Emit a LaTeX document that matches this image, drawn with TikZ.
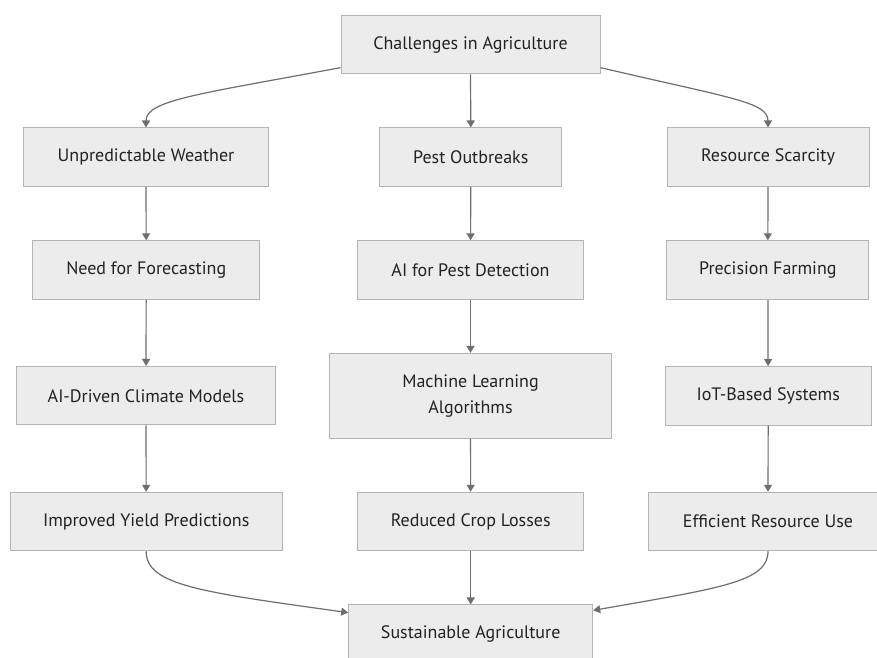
\documentclass[tikz,border=0pt]{standalone}
\usepackage{fontspec}
\setmainfont{PT Sans}
\usetikzlibrary{arrows.meta}
\definecolor{boxfill}{HTML}{ECECEC}
\definecolor{boxline}{HTML}{B4B4B4}
\definecolor{edgecol}{HTML}{6E6E6E}
\definecolor{txt}{HTML}{222222}
\begin{document}
\begin{tikzpicture}[x=1pt,y=-1pt,
  box/.style={draw=boxline, fill=boxfill, line width=1pt, text=txt,
    font=\fontsize{18}{26}\selectfont, align=center, inner sep=0pt,
    minimum height=58.5pt},
  edge/.style={draw=edgecol, line width=1.2pt,
    -{Triangle[length=7pt,width=8pt]}}]
\useasboundingbox (0,0) rectangle (877,657);
\clip (0,0) rectangle (877,657);
\fill[white] (0,0) rectangle (877,657);

\node[box, minimum width=259pt] (ch) at (470.5,44.7) {Challenges in Agriculture};

\node[box, minimum width=245.4pt] (uw) at (146,157.2) {Unpredictable Weather};
\node[box, minimum width=181.7pt] (po) at (470.8,157.2) {Pest Outbreaks};
\node[box, minimum width=202pt] (rs) at (768,157.2) {Resource Scarcity};

\node[box, minimum width=227pt] (nf) at (146.2,270) {Need for Forecasting};
\node[box, minimum width=226.4pt] (ap) at (470.5,270) {AI for Pest Detection};
\node[box, minimum width=202.3pt] (pf) at (767.8,270) {Precision Farming};

\node[box, minimum width=259.7pt] (ad) at (146,395.7) {AI-Driven Climate Models};
\node[box, minimum width=281.6pt, minimum height=84.7pt] (ml) at (470.5,395.7) {Machine Learning\\Algorithms};
\node[box, minimum width=205.7pt] (io) at (768.2,395.8) {IoT-Based Systems};

\node[box, minimum width=271.7pt] (iy) at (146.2,521.5) {Improved Yield Predictions};
\node[box, minimum width=226pt] (rc) at (470.7,521.5) {Reduced Crop Losses};
\node[box, minimum width=239.4pt] (er) at (768,521.5) {Efficient Resource Use};

\node[box, minimum width=244pt] (sa) at (470.7,634.2) {Sustainable Agriculture};

\draw[edge] (ch.190) .. controls (200,94) and (146,100) .. (uw.north);
\draw[edge] (ch.south) -- (po.north);
\draw[edge] (ch.-10.6) .. controls (730,98) and (768,102) .. (rs.north);

\draw[edge] (uw) -- (nf);
\draw[edge] (po) -- (ap);
\draw[edge] (rs) -- (pf);

\draw[edge] (nf) -- (ad);
\draw[edge] (ap) -- (ml);
\draw[edge] (pf) -- (io);

\draw[edge] (ad) -- (iy);
\draw[edge] (ml) -- (rc);
\draw[edge] (io) -- (er);

\draw[edge] (iy.south) .. controls (146,585) and (200,592) .. (sa.170);
\draw[edge] (rc) -- (sa);
\draw[edge] (er.south) .. controls (768,582) and (720,588) .. (sa.11.5);
\end{tikzpicture}
\end{document}
